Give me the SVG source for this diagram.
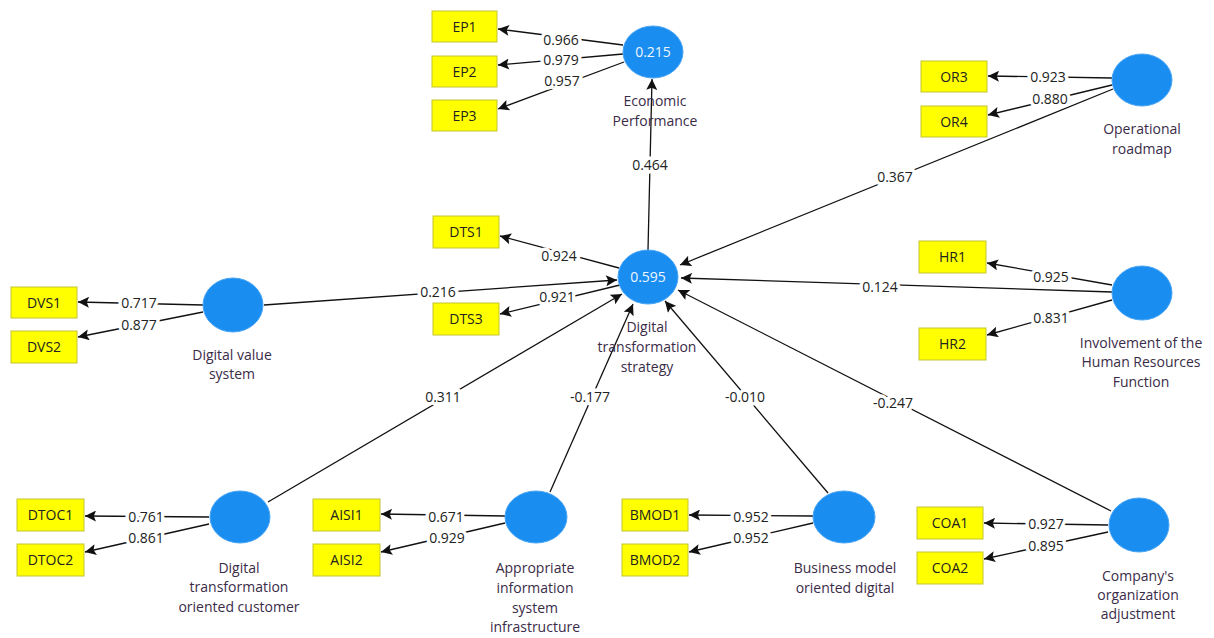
<svg xmlns="http://www.w3.org/2000/svg" width="1214" height="638" viewBox="0 0 1214 638">
<style>
.lv{fill:#1a8df0;stroke:#4aa5f5;stroke-width:1}
.mv{fill:#ffff00;stroke:#c4c430;stroke-width:1}
.mt{font-family:"Open Sans","Liberation Sans",sans-serif;font-size:14px;fill:#222;text-anchor:middle}
.nt{font-family:"Open Sans","Liberation Sans",sans-serif;font-size:14px;fill:#3a2c48;text-anchor:middle}
.vt{font-family:"Open Sans","Liberation Sans",sans-serif;font-size:14px;fill:#eef6ff;text-anchor:middle}
.ln{stroke:#111;stroke-width:1.3;fill:none;marker-end:url(#ah)}
.lb{font-family:"Open Sans","Liberation Sans",sans-serif;font-size:14px;fill:#222;text-anchor:middle;stroke:#fff;stroke-width:7;paint-order:stroke;stroke-linejoin:round}
</style>
<defs>
<marker id="ah" viewBox="0 0 10 10" refX="10" refY="5" markerWidth="12" markerHeight="11" markerUnits="userSpaceOnUse" orient="auto">
<path d="M0,0 L10,5 L0,10 L2,5 z" fill="#111"/>
</marker>
</defs>
<rect width="1214" height="638" fill="#fff"/>
<g id="connectors">
<line class="ln" x1="623" y1="45" x2="498" y2="29"/>
<line class="ln" x1="623" y1="54" x2="498" y2="65"/>
<line class="ln" x1="624" y1="62" x2="498" y2="109"/>
<line class="ln" x1="648" y1="250" x2="652" y2="79"/>
<line class="ln" x1="1112" y1="78" x2="988" y2="76"/>
<line class="ln" x1="1112" y1="85" x2="988" y2="115"/>
<line class="ln" x1="1113" y1="89" x2="680" y2="265"/>
<line class="ln" x1="619" y1="268" x2="500" y2="236"/>
<line class="ln" x1="620" y1="285" x2="500" y2="314"/>
<line class="ln" x1="264" y1="305" x2="617" y2="280"/>
<line class="ln" x1="203" y1="305" x2="78" y2="302"/>
<line class="ln" x1="203" y1="312" x2="78" y2="337"/>
<line class="ln" x1="1112" y1="285" x2="987" y2="263"/>
<line class="ln" x1="1112" y1="300" x2="987" y2="335"/>
<line class="ln" x1="1112" y1="292" x2="681" y2="278"/>
<line class="ln" x1="209" y1="517" x2="85" y2="516"/>
<line class="ln" x1="209" y1="524" x2="85" y2="552"/>
<line class="ln" x1="268" y1="502" x2="622" y2="294"/>
<line class="ln" x1="505" y1="516" x2="381" y2="514"/>
<line class="ln" x1="505" y1="523" x2="381" y2="552"/>
<line class="ln" x1="550" y1="492" x2="633" y2="304"/>
<line class="ln" x1="813" y1="516" x2="689" y2="515"/>
<line class="ln" x1="813" y1="523" x2="689" y2="552"/>
<line class="ln" x1="828" y1="493" x2="665" y2="301"/>
<line class="ln" x1="1108" y1="525" x2="984" y2="523"/>
<line class="ln" x1="1108" y1="532" x2="984" y2="559"/>
<line class="ln" x1="1111" y1="511" x2="678" y2="290"/>
<text class="lb" x="561" y="45">0.966</text>
<text class="lb" x="561" y="65">0.979</text>
<text class="lb" x="562" y="86">0.957</text>
<text class="lb" x="650" y="170">0.464</text>
<text class="lb" x="1048" y="82">0.923</text>
<text class="lb" x="1050" y="104">0.880</text>
<text class="lb" x="895" y="182">0.367</text>
<text class="lb" x="559" y="261">0.924</text>
<text class="lb" x="557" y="302">0.921</text>
<text class="lb" x="438" y="297">0.216</text>
<text class="lb" x="139" y="308">0.717</text>
<text class="lb" x="139" y="330">0.877</text>
<text class="lb" x="1051" y="282">0.925</text>
<text class="lb" x="1051" y="323">0.831</text>
<text class="lb" x="880" y="292">0.124</text>
<text class="lb" x="146" y="522">0.761</text>
<text class="lb" x="146" y="543">0.861</text>
<text class="lb" x="443" y="402">0.311</text>
<text class="lb" x="446" y="522">0.671</text>
<text class="lb" x="447" y="543">0.929</text>
<text class="lb" x="590" y="402">-0.177</text>
<text class="lb" x="751" y="522">0.952</text>
<text class="lb" x="751" y="543">0.952</text>
<text class="lb" x="745" y="402">-0.010</text>
<text class="lb" x="1046" y="529">0.927</text>
<text class="lb" x="1046" y="551">0.895</text>
<text class="lb" x="893" y="408">-0.247</text>
</g>
<g id="EP1"><rect class="mv" x="432" y="11" width="65" height="31"/><text class="mt" x="464.5" y="31.5">EP1</text></g>
<g id="EP2"><rect class="mv" x="432" y="56" width="65" height="31"/><text class="mt" x="464.5" y="76.5">EP2</text></g>
<g id="EP3"><rect class="mv" x="432" y="100" width="65" height="31"/><text class="mt" x="464.5" y="120.5">EP3</text></g>
<g id="EconomicPerformance"><ellipse class="lv" cx="653" cy="52" rx="30" ry="26"/><text class="vt" x="653" y="57">0.215</text><text class="nt" x="655" y="106">Economic</text><text class="nt" x="655" y="126">Performance</text></g>
<g id="OR3"><rect class="mv" x="921" y="61" width="66" height="31"/><text class="mt" x="954" y="81.5">OR3</text></g>
<g id="OR4"><rect class="mv" x="921" y="106" width="66" height="31"/><text class="mt" x="954" y="126.5">OR4</text></g>
<g id="OperationalRoadmap"><ellipse class="lv" cx="1142" cy="80" rx="30" ry="26"/><text class="nt" x="1142" y="134">Operational</text><text class="nt" x="1142" y="154">roadmap</text></g>
<g id="DTS1"><rect class="mv" x="433" y="216" width="66" height="32"/><text class="mt" x="466" y="237">DTS1</text></g>
<g id="DTS3"><rect class="mv" x="433" y="303" width="66" height="32"/><text class="mt" x="466" y="324">DTS3</text></g>
<g id="DigitalTransformationStrategy"><ellipse class="lv" cx="648" cy="277" rx="30" ry="27"/><text class="vt" x="648" y="282">0.595</text><text class="nt" x="647" y="332">Digital</text><text class="nt" x="647" y="352">transformation</text><text class="nt" x="647" y="372">strategy</text></g>
<g id="DVS1"><rect class="mv" x="11" y="287" width="66" height="31"/><text class="mt" x="44" y="307.5">DVS1</text></g>
<g id="DVS2"><rect class="mv" x="11" y="331" width="66" height="32"/><text class="mt" x="44" y="352">DVS2</text></g>
<g id="DigitalValueSystem"><ellipse class="lv" cx="233" cy="305" rx="30" ry="27"/><text class="nt" x="232" y="360">Digital value</text><text class="nt" x="232" y="379">system</text></g>
<g id="HR1"><rect class="mv" x="919" y="241" width="67" height="32"/><text class="mt" x="952.5" y="262">HR1</text></g>
<g id="HR2"><rect class="mv" x="919" y="328" width="67" height="32"/><text class="mt" x="952.5" y="349">HR2</text></g>
<g id="InvolvementHR"><ellipse class="lv" cx="1142" cy="293" rx="30" ry="27"/><text class="nt" x="1141" y="348">Involvement of the</text><text class="nt" x="1141" y="367">Human Resources</text><text class="nt" x="1141" y="387">Function</text></g>
<g id="DTOC1"><rect class="mv" x="17" y="499" width="67" height="32"/><text class="mt" x="50.5" y="520">DTOC1</text></g>
<g id="DTOC2"><rect class="mv" x="17" y="544" width="67" height="32"/><text class="mt" x="50.5" y="565">DTOC2</text></g>
<g id="DigitalTransformationOrientedCustomer"><ellipse class="lv" cx="240" cy="517" rx="30" ry="26"/><text class="nt" x="239" y="573">Digital</text><text class="nt" x="239" y="592">transformation</text><text class="nt" x="239" y="612">oriented customer</text></g>
<g id="AISI1"><rect class="mv" x="313" y="499" width="67" height="32"/><text class="mt" x="346.5" y="520">AISI1</text></g>
<g id="AISI2"><rect class="mv" x="313" y="544" width="67" height="32"/><text class="mt" x="346.5" y="565">AISI2</text></g>
<g id="AppropriateISInfrastructure"><ellipse class="lv" cx="536" cy="517" rx="31" ry="26"/><text class="nt" x="535" y="573">Appropriate</text><text class="nt" x="535" y="593">information</text><text class="nt" x="535" y="613">system</text><text class="nt" x="535" y="632">infrastructure</text></g>
<g id="BMOD1"><rect class="mv" x="622" y="499" width="66" height="32"/><text class="mt" x="655" y="520">BMOD1</text></g>
<g id="BMOD2"><rect class="mv" x="622" y="544" width="66" height="32"/><text class="mt" x="655" y="565">BMOD2</text></g>
<g id="BusinessModelOrientedDigital"><ellipse class="lv" cx="844" cy="517" rx="31" ry="26"/><text class="nt" x="845" y="573">Business model</text><text class="nt" x="845" y="593">oriented digital</text></g>
<g id="COA1"><rect class="mv" x="917" y="507" width="66" height="32"/><text class="mt" x="950" y="528">COA1</text></g>
<g id="COA2"><rect class="mv" x="917" y="552" width="66" height="32"/><text class="mt" x="950" y="573">COA2</text></g>
<g id="CompanyOrganizationAdjustment"><ellipse class="lv" cx="1139" cy="525" rx="30" ry="27"/><text class="nt" x="1138" y="581">Company's</text><text class="nt" x="1138" y="600">organization</text><text class="nt" x="1138" y="619">adjustment</text></g>
</svg>
